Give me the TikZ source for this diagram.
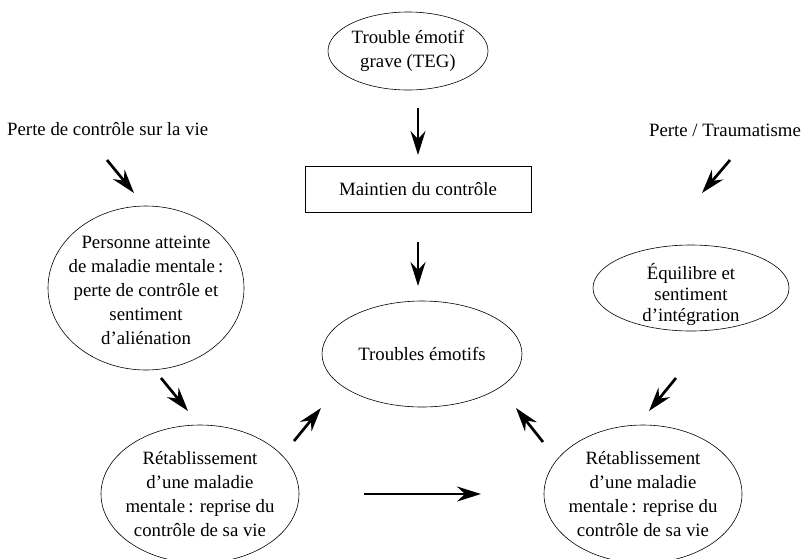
\documentclass[tikz,border=0pt]{standalone}
\usepackage{fontspec}
\setmainfont{Liberation Serif}
\usetikzlibrary{shapes.geometric,arrows.meta}
\begin{document}
\begin{tikzpicture}[x=1pt,y=-1pt,
  oval/.style={draw, ellipse, line width=0.6pt, inner sep=0pt},
  txt/.style={align=center, inner sep=0pt, font=\fontsize{18.8}{24}\selectfont},
  flow/.style={line width=2.7pt, -{Stealth[length=24pt,width=15pt,inset=8pt]}}]
\useasboundingbox (0,0) rectangle (806,558);

% ovals
\node[oval, minimum width=160pt, minimum height=78pt] (teg) at (408,51) {};
\node[txt] (tegt) at (teg) {Trouble émotif\\grave (TEG)};

\node[draw, line width=0.6pt, minimum width=226pt, minimum height=46pt, txt] (box) at (418,189) {Maintien du contrôle};

\node[oval, minimum width=200pt, minimum height=106pt] (te) at (422,354) {};
\node[txt] (tet) at (te) {Troubles émotifs};

\node[oval, minimum width=196pt, minimum height=164pt] (lm) at (146,288) {};
\node[txt] (lmt) at (146,290) {Personne atteinte\\de maladie mentale\,:\\perte de contrôle et\\sentiment\\d’aliénation};

\node[oval, minimum width=196pt, minimum height=86pt] (rm) at (691,288) {};
\node[txt, font=\fontsize{18.8}{21}\selectfont] (rmt) at (691,294) {Équilibre et\\sentiment\\d’intégration};

\node[oval, minimum width=198pt, minimum height=138pt] (lb) at (200,494) {};
\node[txt] (lbt) at (lb) {Rétablissement\\d’une maladie\\mentale\,: reprise du\\contrôle de sa vie};

\node[oval, minimum width=198pt, minimum height=138pt] (rb) at (643,494) {};
\node[txt] (rbt) at (rb) {Rétablissement\\d’une maladie\\mentale\,: reprise du\\contrôle de sa vie};

% free labels
\node[txt, anchor=west] (pcv) at (7,129) {Perte de contrôle sur la vie};
\node[txt] (ptr) at (725,130) {Perte / Traumatisme};

% arrow end points
\coordinate (a1s) at (418,108); \coordinate (a1e) at (418,155);
\coordinate (a2s) at (418,242); \coordinate (a2e) at (418,286);
\coordinate (a3s) at (107,160); \coordinate (a3e) at (134,193);
\coordinate (a4s) at (730,160); \coordinate (a4e) at (702,193);
\coordinate (a5s) at (161,378); \coordinate (a5e) at (188,411);
\coordinate (a6s) at (676,378); \coordinate (a6e) at (649,411);
\coordinate (a7s) at (294,441); \coordinate (a7e) at (321,408);
\coordinate (a8s) at (543,442); \coordinate (a8e) at (516,408);
\coordinate (a9s) at (364,494); \coordinate (a9e) at (481,494);

\foreach \i in {1,...,9} {\draw[flow] (a\i s) -- (a\i e);}
\end{tikzpicture}
\end{document}
